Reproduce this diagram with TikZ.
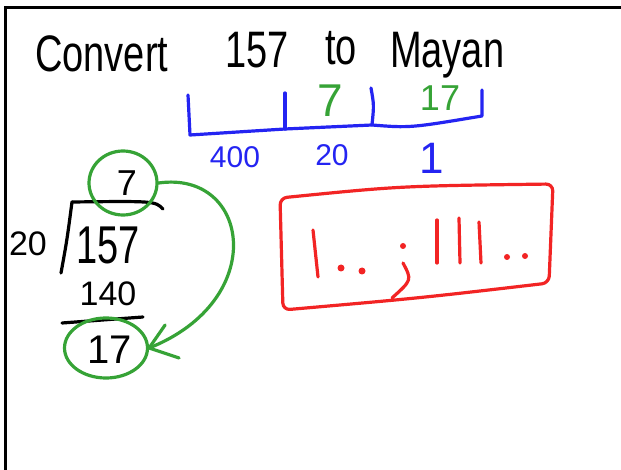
\documentclass[tikz,border=0pt]{standalone}
\usepackage{fontspec}
\setmainfont{Liberation Sans}
\usetikzlibrary{shapes.geometric}
\definecolor{penblue}{HTML}{2424F2}
\definecolor{pengreen}{HTML}{36A336}
\definecolor{penred}{HTML}{F22424}
\begin{document}
\begin{tikzpicture}[x=1pt,y=-1pt,
  pen/.style={line width=3.2pt,line cap=round,line join=round},
  hand/.style={inner sep=0pt},
  titleword/.style={inner sep=0pt,anchor=base west,font=\fontsize{38}{40}\selectfont},
  ring/.style={ellipse,draw=pengreen,pen,inner sep=0pt},
  dotmark/.style={fill=penred,draw=none}]
\useasboundingbox (0,0) rectangle (621,470);
\fill[white] (0,0) rectangle (621,470);
% frame
\draw[line width=3pt] (5,470) -- (5,8) -- (621,8);
% title
\node[titleword] (t1) at (35,72) {\scalebox{1}[1.35]{Convert}};
\node[titleword] (t2) at (225,68) {\scalebox{1}[1.35]{157}};
\node[titleword] (t3) at (325,65) {\scalebox{1}[1.35]{to}};
\node[titleword] (t4) at (390,68) {\scalebox{1}[1.35]{Mayan}};
% blue place-value bracket
\draw[pen,penblue] (188,95) -- (190,135) -- (285,129) -- (372,125)
   .. controls (410,128) .. (482,116) -- (482,90);
\draw[pen,penblue] (285,93) -- (285,129);
\draw[pen,penblue] (371,88) .. controls (374,105) .. (372,125);
\node[hand,text=penblue,font=\fontsize{30}{30}\selectfont] (v400) at (235,157) {400};
\node[hand,text=penblue,font=\fontsize{30}{30}\selectfont] (v20) at (332,155) {20};
\node[hand,text=penblue,font=\fontsize{44}{44}\selectfont] (v1) at (432,158) {1};
\node[hand,text=pengreen,font=\fontsize{46}{46}\selectfont] (g7) at (330,101) {7};
\node[hand,text=pengreen,font=\fontsize{36}{36}\selectfont] (g17) at (440,98) {17};
% long division
\node[hand,font=\fontsize{36}{36}\selectfont] (q7) at (127,183) {7};
\node[hand,font=\fontsize{34}{34}\selectfont] (d20) at (28,244) {20};
\node[hand,font=\fontsize{38}{38}\selectfont] (n157) at (108,245) {\scalebox{1}[1.4]{157}};
\node[hand,font=\fontsize{34}{34}\selectfont] (n140) at (108,294) {140};
\node[hand,font=\fontsize{40}{40}\selectfont] (r17) at (110,350) {17};
\draw[pen] (163,209) .. controls (155,201) .. (72,202);
\draw[pen] (72,202) .. controls (67,240) .. (61,273);
\draw[pen] (62,323) -- (143,317);
% green circles and arrow
\node[ring,minimum width=68pt,minimum height=64pt] (c7) at (123,183) {};
\node[ring,minimum width=83pt,minimum height=60pt] (c17) at (106,348) {};
\draw[pen,pengreen] (c7.east) .. controls (250,170) and (270,300) .. (c17.east);
\coordinate (tip) at (c17.east);
\draw[pen,pengreen] (tip) -- ++(16,-23);
\draw[pen,pengreen] (tip) -- ++(30,10);
% red box with Mayan numerals
\draw[pen,penred,rounded corners=7pt] (280,198) .. controls (400,186) .. (553,184)
   -- (549,283) .. controls (420,298) .. (283,310) -- cycle;
\draw[pen,penred] (313,230) -- (318,277);
\fill[dotmark] (341,268) circle (3.5);
\fill[dotmark] (362,271) circle (3.5);
\fill[dotmark] (403,246) circle (3);
\draw[pen,penred] (403,263) .. controls (412,280) .. (392,298);
\draw[pen,penred] (437,220) -- (437,263);
\draw[pen,penred] (459,218) -- (460,263);
\draw[pen,penred] (479,222) -- (481,263);
\fill[dotmark] (507,257) circle (3);
\fill[dotmark] (525,256) circle (3);
\end{tikzpicture}
\end{document}
